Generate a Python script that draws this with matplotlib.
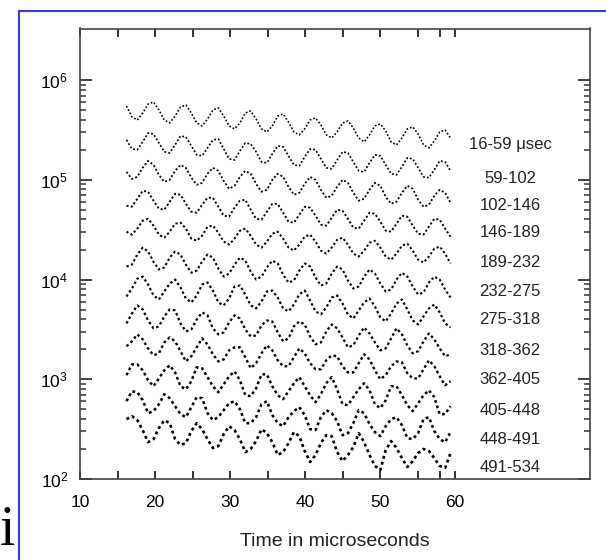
import matplotlib
matplotlib.use("Agg")
import matplotlib.pyplot as plt
from matplotlib.ticker import FixedLocator, NullFormatter, LogFormatterSciNotation
from matplotlib.lines import Line2D

plt.rcParams['font.family'] = ['Liberation Sans', 'DejaVu Sans']
plt.rcParams['mathtext.default'] = 'regular'

# time axis (microseconds, shifted into the 16-60 window)
TIME_US = [16.2, 16.92, 17.64, 18.36, 19.08, 19.8, 20.52, 21.24, 21.96, 22.68,
           23.4, 24.12, 24.84, 25.56, 26.28, 27.0, 27.72, 28.44, 29.16, 29.88,
           30.6, 31.32, 32.04, 32.76, 33.48, 34.2, 34.92, 35.64, 36.36, 37.08,
           37.8, 38.52, 39.24, 39.96, 40.68, 41.4, 42.12, 42.84, 43.56, 44.28,
           45.0, 45.72, 46.44, 47.16, 47.88, 48.6, 49.32, 50.04, 50.76, 51.48,
           52.2, 52.92, 53.64, 54.36, 55.08, 55.8, 56.52, 57.24, 57.96, 58.68,
           59.4]

COUNTS_016_059 = [549000, 427000, 398000, 468000, 575000, 603000,
                  501000, 398000, 372000, 437000, 537000, 562000,
                  468000, 372000, 347000, 407000, 501000, 525000,
                  437000, 347000, 324000, 372000, 468000, 490000,
                  407000, 324000, 302000, 347000, 437000, 457000,
                  380000, 302000, 282000, 324000, 398000, 417000,
                  355000, 282000, 263000, 302000, 372000, 389000,
                  331000, 263000, 240000, 282000, 347000, 363000,
                  309000, 240000, 224000, 263000, 324000, 339000,
                  288000, 224000, 209000, 245000, 302000, 316000,
                  263000]
COUNTS_059_102 = [251000, 204000, 200000, 240000, 295000, 288000,
                  234000, 191000, 186000, 224000, 275000, 269000,
                  219000, 178000, 174000, 209000, 251000, 257000,
                  204000, 162000, 158000, 195000, 234000, 229000,
                  191000, 151000, 148000, 182000, 219000, 214000,
                  174000, 141000, 138000, 170000, 204000, 200000,
                  162000, 132000, 129000, 158000, 191000, 186000,
                  151000, 123000, 120000, 148000, 178000, 174000,
                  141000, 115000, 112000, 135000, 166000, 162000,
                  132000, 107000, 105000, 126000, 155000, 151000,
                  123000]
COUNTS_102_146 = [120000, 102000, 107000, 132000, 155000, 141000,
                  112000, 95500, 100000, 123000, 141000, 132000,
                  105000, 89100, 93300, 115000, 132000, 123000,
                  97700, 81300, 87100, 107000, 123000, 115000,
                  91200, 75900, 79400, 100000, 115000, 107000,
                  85100, 70800, 74100, 91200, 107000, 100000,
                  79400, 66100, 69200, 85100, 100000, 93300,
                  74100, 61700, 64600, 79400, 93300, 87100,
                  67600, 57500, 60300, 74100, 87100, 81300,
                  63100, 53700, 56200, 69200, 79400, 74100,
                  58900]
COUNTS_146_189 = [55000, 53700, 64600, 77600, 75900, 61700,
                  51300, 50100, 60300, 72400, 70800, 57500,
                  47900, 46800, 56200, 66100, 66100, 53700,
                  43700, 42700, 52500, 61700, 63100, 50100,
                  40700, 39800, 47900, 57500, 57500, 46800,
                  38000, 37200, 44700, 53700, 52500, 43700,
                  35500, 34700, 41700, 50100, 49000, 40700,
                  33100, 32400, 38900, 46800, 45700, 38000,
                  30900, 30200, 36300, 43700, 42700, 34700,
                  28800, 28200, 33900, 40700, 39800, 32400,
                  26900]
COUNTS_189_232 = [30200, 28200, 32400, 38900, 40700, 34700,
                  28200, 26300, 30200, 36300, 37200, 32400,
                  25700, 24500, 27500, 33900, 34700, 29500,
                  24000, 22400, 25700, 30900, 32400, 27500,
                  22400, 20900, 24000, 28800, 30200, 25700,
                  20900, 19500, 22400, 26900, 28200, 24000,
                  19500, 18200, 20900, 25100, 26300, 22400,
                  18200, 17000, 19500, 23400, 24500, 20900,
                  17000, 15800, 18200, 21900, 22900, 19500,
                  15800, 14800, 17000, 20400, 21400, 18200,
                  14500]
COUNTS_232_275 = [13500, 14100, 17800, 20900, 19100, 15100,
                  12600, 13200, 16600, 19100, 17800, 14100,
                  11700, 12300, 15100, 17800, 16600, 12900,
                  10700, 11500, 14100, 16600, 15500, 12000,
                  10000, 10700, 13200, 15500, 14500, 11200,
                  9330, 9770, 12300, 14500, 13500, 10500,
                  8710, 9120, 11500, 13500, 12600, 9770,
                  8130, 8510, 10700, 12600, 11500, 9120,
                  7590, 7940, 10000, 11700, 10700, 8510,
                  7080, 7410, 9330, 10700, 10000, 7940,
                  6610]
COUNTS_275_318 = [6760, 8130, 10200, 10700, 8910, 6920,
                  6310, 7590, 9120, 10000, 8320, 6460,
                  5890, 6920, 8910, 9330, 7760, 5890,
                  5500, 6460, 8510, 8710, 7080, 5500,
                  5130, 6030, 7590, 7760, 6610, 5130,
                  4790, 5620, 7080, 7760, 6170, 4790,
                  4470, 5250, 6610, 6920, 5750, 4470,
                  4070, 4900, 5890, 6460, 5370, 4170,
                  3800, 4570, 5750, 6310, 5010, 3890,
                  3550, 4270, 5130, 5620, 4680, 3630,
                  3310]
COUNTS_318_362 = [3630, 4570, 5500, 5010, 3890, 3240,
                  3390, 4270, 5010, 4900, 3630, 3020,
                  3160, 3980, 4680, 4370, 3240, 2820,
                  2950, 3720, 4370, 4070, 3160, 2690,
                  2750, 3470, 3890, 3800, 2950, 2400,
                  2570, 3390, 3800, 3550, 2690, 2240,
                  2340, 3020, 3550, 3240, 2630, 2090,
                  2190, 2750, 3310, 2880, 2340, 1950,
                  2040, 2570, 3240, 2820, 2190, 1820,
                  1910, 2400, 2880, 2510, 2040, 1700,
                  1780]
COUNTS_362_405 = [2140, 2400, 2820, 2510, 2040, 1740,
                  1820, 2340, 2630, 2400, 1910, 1510,
                  1700, 2090, 2570, 2240, 1780, 1510,
                  1580, 1950, 2090, 2090, 1660, 1290,
                  1450, 1820, 2190, 1950, 1550, 1350,
                  1350, 1660, 2040, 1820, 1450, 1260,
                  1260, 1550, 1740, 1700, 1350, 1170,
                  1170, 1450, 1780, 1580, 1230, 1000,
                  1100, 1350, 1510, 1480, 1150, 1020,
                  1020, 1260, 1550, 1350, 1070, 871,
                  955]
COUNTS_405_448 = [1100, 1410, 1410, 1230, 977, 851,
                  1020, 1230, 1380, 1170, 851, 794,
                  955, 1320, 1290, 1050, 851, 741,
                  891, 1070, 1200, 977, 692, 676,
                  813, 1120, 1120, 851, 692, 631,
                  759, 912, 1050, 851, 692, 589,
                  708, 912, 1050, 794, 562, 550,
                  661, 794, 912, 776, 562, 513,
                  617, 851, 851, 692, 550, 479,
                  575, 692, 776, 661, 447, 447,
                  537]
COUNTS_448_491 = [603, 759, 741, 617, 457, 479,
                  562, 708, 646, 537, 447, 417,
                  525, 661, 646, 457, 389, 417,
                  490, 575, 603, 501, 363, 363,
                  417, 562, 603, 437, 363, 339,
                  417, 479, 525, 437, 316, 309,
                  417, 490, 457, 380, 275, 288,
                  363, 490, 457, 355, 295, 269,
                  339, 398, 417, 347, 257, 251,
                  288, 398, 417, 302, 251, 234,
                  295]
COUNTS_491_534 = [398, 427, 389, 309, 234, 251,
                  324, 389, 363, 251, 219, 229,
                  302, 363, 316, 251, 204, 214,
                  282, 339, 309, 251, 186, 200,
                  240, 316, 288, 234, 174, 186,
                  229, 295, 269, 191, 148, 174,
                  229, 275, 269, 186, 151, 174,
                  209, 288, 234, 174, 135, 123,
                  195, 240, 204, 162, 132, 151,
                  182, 200, 191, 162, 135, 129,
                  182]

STRIP_LABELS = ["16-59 \u03bcsec", "59-102", "102-146", "146-189", "189-232",
                "232-275", "275-318", "318-362", "362-405", "405-448",
                "448-491", "491-534"]
SERIES = [COUNTS_016_059, COUNTS_059_102, COUNTS_102_146, COUNTS_146_189,
          COUNTS_189_232, COUNTS_232_275, COUNTS_275_318, COUNTS_318_362,
          COUNTS_362_405, COUNTS_405_448, COUNTS_448_491, COUNTS_491_534]

X_MAJOR = [10, 20, 30, 40, 50, 60]
X_MINOR = [15, 25, 35, 45, 55, 58]

W, H = 606, 560
fig = plt.figure(figsize=(W / 100, H / 100), dpi=100)
fig.patch.set_facecolor('white')

ax = fig.add_axes([80 / W, 1 - 479 / H, 509.5 / W, 450.5 / H])

for i, vals in enumerate(SERIES):
    lw = 1.15 + 0.07 * i
    ax.plot(TIME_US, vals, color='black', lw=lw,
            linestyle=(0, (1.1, 1.2)), dash_capstyle='butt')

# label positions in axes fraction (layout)
label_y = [0.743, 0.666, 0.608, 0.547, 0.481, 0.416, 0.353, 0.286,
           0.220, 0.153, 0.088, 0.025]
for lab, yy in zip(STRIP_LABELS, label_y):
    ax.text(0.844, yy, lab, transform=ax.transAxes, ha='center', va='center',
            fontsize=12, color='#222222')

ax.set_yscale('log')
ax.set_xlim(10, 77.93)
ax.set_ylim(100, 3.29e6)

ax.xaxis.set_major_locator(FixedLocator(X_MAJOR))
ax.xaxis.set_minor_locator(FixedLocator(X_MINOR))
ax.xaxis.set_minor_formatter(NullFormatter())

ax.yaxis.set_major_locator(FixedLocator([1e2, 1e3, 1e4, 1e5, 1e6]))
ax.yaxis.set_major_formatter(LogFormatterSciNotation())
ymin_ticks = [m * 10 ** e for e in range(2, 6) for m in range(2, 10)]
ax.yaxis.set_minor_locator(FixedLocator(ymin_ticks))
ax.yaxis.set_minor_formatter(NullFormatter())

tick_col = '#333333'
ax.tick_params(axis='x', which='both', direction='in', top=True, bottom=True,
               length=5.8, width=1.4, color=tick_col, labelsize=12.5, pad=11.5)
ax.tick_params(axis='y', which='major', direction='in', left=True, right=True,
               length=8.6, width=1.3, color=tick_col, labelsize=12.5, pad=8.5)
ax.tick_params(axis='y', which='minor', direction='in', left=True, right=True,
               length=4.3, width=1.1, color=tick_col)

for sp in ax.spines.values():
    sp.set_linewidth(1.2)
    sp.set_color('#444444')

ax.set_xlabel('Time in microseconds', fontsize=14, color='#222222')
ax.xaxis.set_label_coords(0.5, -0.139)
ax.xaxis.label.set_va('center')

# slide frame (blue) and stray glyph at lower left
blue = '#3d3dd4'
fig.add_artist(Line2D([19.3 / W, 19.3 / W], [0, 1 - 10.7 / H], color=blue,
                      lw=1.5, transform=fig.transFigure))
fig.add_artist(Line2D([19.3 / W, 1], [1 - 10.7 / H, 1 - 10.7 / H], color=blue,
                      lw=1.5, transform=fig.transFigure))
fig.text(7.5 / W, 1 - 545 / H, 'i', family=['Liberation Serif', 'DejaVu Serif'],
         fontsize=40, ha='center', va='baseline', color='black')

fig.savefig('out.png', dpi=100, facecolor='white')
